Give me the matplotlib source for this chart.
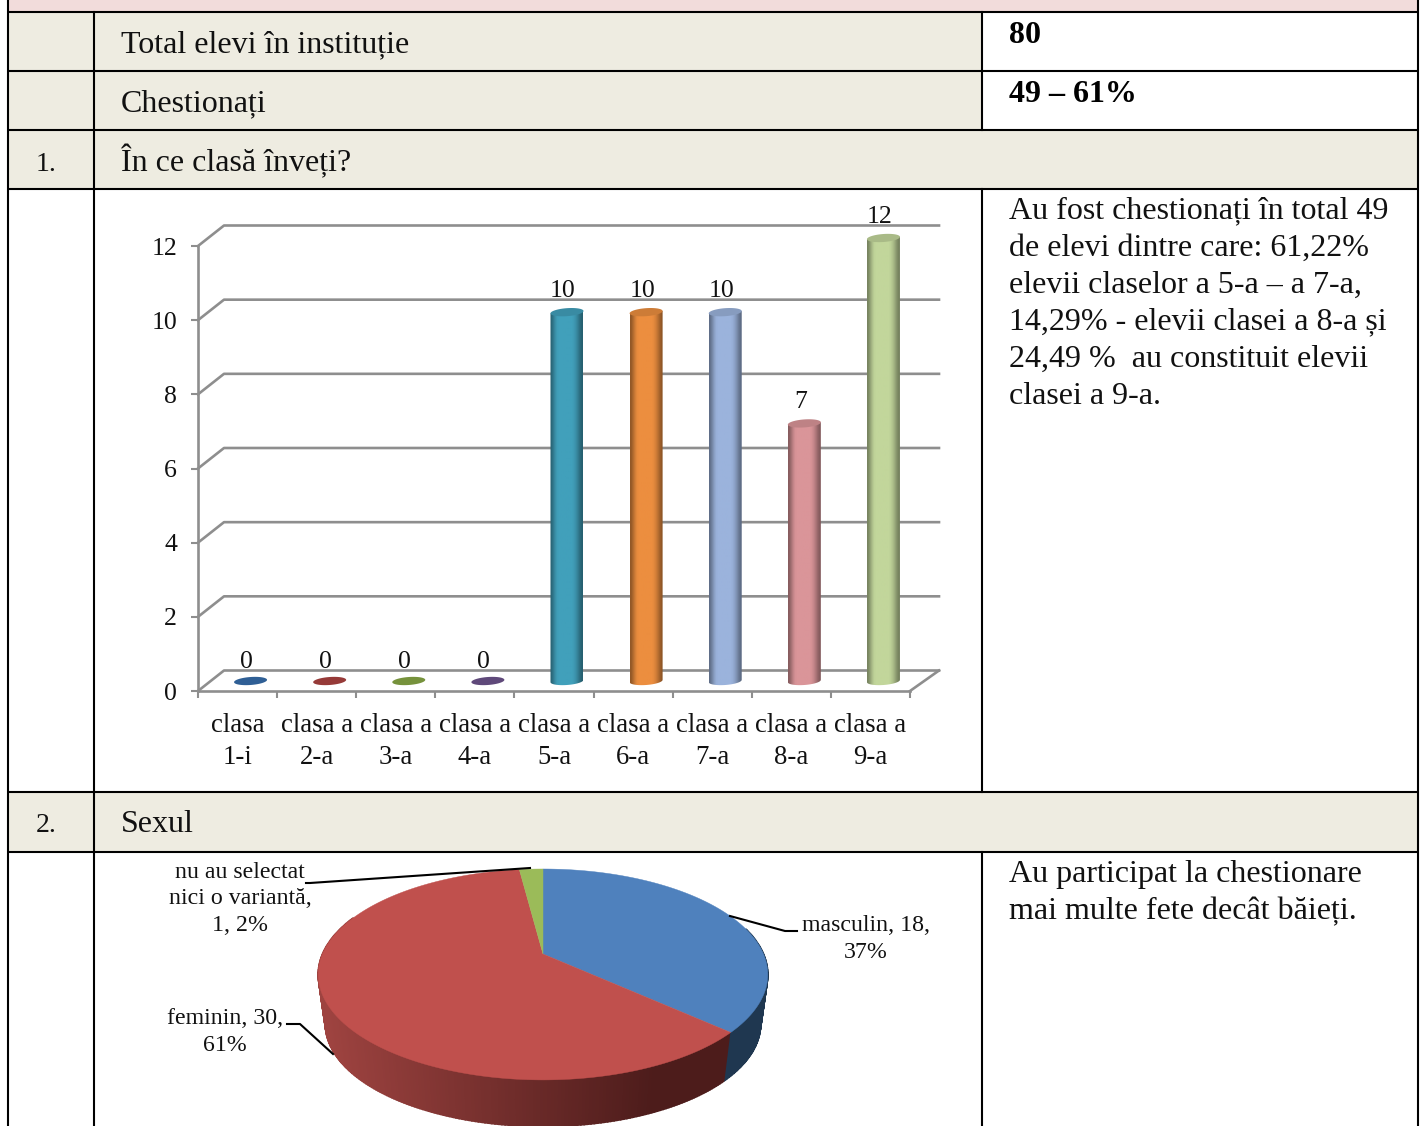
import numpy as np
import matplotlib
matplotlib.use('Agg')
import matplotlib.pyplot as plt
from matplotlib.patches import Polygon
from matplotlib.colors import to_rgb

plt.rcParams['font.family'] = ['Liberation Serif', 'DejaVu Serif']

# question 1
classes = ['clasa\n1-i', 'clasa a\n2-a', 'clasa a\n3-a', 'clasa a\n4-a', 'clasa a\n5-a',
           'clasa a\n6-a', 'clasa a\n7-a', 'clasa a\n8-a', 'clasa a\n9-a']
class_counts = [0, 0, 0, 0, 10, 10, 10, 7, 12]
class_colors = ['#2F5F95', '#963A38', '#76923C', '#5F497A', '#41A0BB', '#EC8E3F', '#9BB3DC', '#DA9599', '#C2D69B']
y_ticks = [0, 2, 4, 6, 8, 10, 12]

# question 2
sex_labels = ['masculin, 18,\n37%', 'feminin, 30,\n61%', 'nu au selectat\nnici o variantă,\n1, 2%']
sex_counts = [18, 30, 1]
sex_colors = ['#4F81BD', '#C0504D', '#9BBB59']

# table text
rows = [('', 'Total elevi în instituție', 52), ('', 'Chestionați', 111),
        ('1.', 'În ce clasă înveți?', 171), ('2.', 'Sexul', 832)]
answer_1 = ['Au fost chestionați în total 49', 'de elevi dintre care: 61,22%', 'elevii claselor a 5-a – a 7-a,',
            '14,29% - elevii clasei a 8-a și', '24,49 %  au constituit elevii', 'clasei a 9-a.']
answer_2 = ['Au participat la chestionare', 'mai multe fete decât băieți.']

W, H = 1424, 1126
fig = plt.figure(figsize=(W / 100, H / 100), dpi=100)
bg = fig.add_axes([0, 0, 1, 1])
bg.set_xlim(0, W)
bg.set_ylim(H, 0)
bg.axis('off')

BEIGE = '#EEECE1'
PINK = '#F2DCDB'
bg.fill_between([8, 1418], 0, 12, color=PINK, lw=0)
bg.fill_between([8, 982], 12, 130, color=BEIGE, lw=0)
bg.fill_between([8, 1418], 130, 189, color=BEIGE, lw=0)
bg.fill_between([8, 1418], 792, 852, color=BEIGE, lw=0)

for y in [12, 71, 130, 189, 792, 852]:
    bg.plot([8, 1418], [y, y], color='black', lw=1.5, solid_capstyle='butt')
bg.plot([8, 8], [0, H], color='black', lw=1.5)
bg.plot([94, 94], [12, H], color='black', lw=1.5)
bg.plot([1418, 1418], [0, H], color='black', lw=1.5)
bg.plot([982, 982], [12, 130], color='black', lw=1.5)
bg.plot([982, 982], [189, 792], color='black', lw=1.5)
bg.plot([982, 982], [852, H], color='black', lw=1.5)

BODY = 23
for num, txt, y in rows:
    bg.text(46, y, num, fontsize=20, ha='center', va='baseline', color='#111111')
    bg.text(121, y, txt, fontsize=BODY, va='baseline', color='#111111')
bg.text(1009, 43, '80', fontsize=BODY, fontweight='bold', va='baseline')
bg.text(1009, 102, '49 – 61%', fontsize=BODY, fontweight='bold', va='baseline')
for i, line in enumerate(answer_1):
    bg.text(1009, 218.5 + i * 37, line, fontsize=BODY, va='baseline', color='#111111')
for i, line in enumerate(answer_2):
    bg.text(1009, 882 + i * 37, line, fontsize=BODY, va='baseline', color='#111111')

# bar chart, axes placed on the pixel box of the front plane
GRAY = '#8E8E8E'
ax = fig.add_axes([198 / W, (H - 691) / H, 712 / W, 445 / H])
ax.patch.set_alpha(0)
x = np.arange(len(classes))
px_x = 712 / len(classes)
px_y = 445 / 12
depth_x, depth_y = 26 / px_x, 20.5 / px_y
right_end = 8.5 + 29 / px_x

for v in y_ticks:
    ax.plot([-0.5, -0.5 + depth_x, right_end], [v, v + depth_y, v + depth_y], color=GRAY, lw=1.9, clip_on=False, zorder=1)
ax.plot([8.5, right_end], [0, depth_y], color=GRAY, lw=1.9, clip_on=False, zorder=1)

bar_w = 33 / px_x
bar_x = x + 13 / px_x
base = 10 / px_y
shade = np.array([0.62, 0.74, 0.88, 0.98, 1, 1, 1, 1, 1, 1, 1, 0.97, 0.9, 0.8, 0.68, 0.6])


def disc(xc, yc, t, height=8, tilt=0.07):
    # slightly tilted ellipse, sizes in pixels
    dx = 16.5 * np.cos(t)
    dy = height / 2 * np.sin(t) + tilt * dx
    return np.column_stack([xc + dx / px_x, yc + dy / px_y])


full = np.linspace(0, 2 * np.pi, 60)
half = np.linspace(np.pi, 2 * np.pi, 30)
for xc, v, col in zip(bar_x, class_counts, class_colors):
    rgb = np.array(to_rgb(col))
    if v == 0:
        ax.add_patch(Polygon(disc(xc, base, full), closed=True, fc=col, ec='none', zorder=3, clip_on=False))
        continue
    top = base + v - 2 / px_y
    outline = np.vstack([disc(xc, base, half), disc(xc, top, np.array([0.0, np.pi]))])
    body = Polygon(outline, closed=True, fc='none', ec='none', transform=ax.transData)
    ax.add_patch(body)
    grad = shade[None, :, None] * rgb[None, None, :]
    im = ax.imshow(np.clip(grad, 0, 1), extent=[xc - bar_w / 2, xc + bar_w / 2, 0, top + 1], aspect='auto',
                   interpolation='bilinear', zorder=3)
    im.set_clip_path(body)
    im.set_clip_box(fig.bbox)
    ax.add_patch(Polygon(disc(xc, top, full), closed=True, fc=rgb * 0.87, ec='none', zorder=4, clip_on=False))

for xc, v in zip(x, class_counts):
    ax.text(xc + 9 / px_x, v + 29 / px_y, str(v), fontsize=18.5, ha='center', va='center', color='#111111')

ax.set_xlim(-0.5, 8.5)
ax.set_ylim(0, 12)
for side in ['top', 'right']:
    ax.spines[side].set_visible(False)
for side in ['left', 'bottom']:
    ax.spines[side].set_color(GRAY)
    ax.spines[side].set_linewidth(1.9)
ax.set_yticks(y_ticks)
ax.tick_params(axis='y', labelsize=18.5, length=5, width=1.5, color=GRAY, pad=10, labelcolor='#111111')
ax.set_xticks(x)
ax.set_xticklabels(classes, linespacing=1.38)
ax.tick_params(axis='x', which='major', labelsize=19.3, length=0, pad=16, labelcolor='#111111')
ax.set_xticks(np.arange(-0.5, 9), minor=True)
ax.tick_params(axis='x', which='minor', length=5, width=1.5, color=GRAY)

# 3d pie, disc pushed through a perspective so the apex sits above the ellipse centre
k, a, b = 0.194, 220.5, 101.5
cx, cy = 543, 954


def rim(theta, scale=1.0, shift=0.0):
    sx, sy = np.sin(theta), np.cos(theta)
    w = 1 + k * sy
    return cx + scale * a * sx / w, cy + shift - scale * b * sy / w


frac = np.cumsum([0] + sex_counts) / sum(sex_counts) * 2 * np.pi
wall_s, wall_d = 0.968, 50.5
wall_left = np.array(to_rgb('#9E4340'))
wall_right = np.array(to_rgb('#4D1C1B'))
step = 0.75
for deg in np.arange(75, 292, step):
    tt = np.radians([deg, deg + step])
    xa, ya = rim(tt)
    xb, yb = rim(tt[::-1], wall_s, wall_d)
    if tt[0] < frac[1]:
        col = '#1F3750'
    else:
        m = np.clip((xa[0] - 325) / 330, 0, 1)
        col = wall_left * (1 - m) + wall_right * m
    bg.fill(np.r_[xa, xb], np.r_[ya, yb], color=col, lw=1.2, zorder=2)

for i, col in enumerate(sex_colors):
    th = np.linspace(frac[i], frac[i + 1], 200)
    xs, ys = rim(th)
    bg.fill(np.r_[cx, xs], np.r_[cy, ys], color=col, lw=0.3, zorder=3)

bg.plot([530, 310, 306], [868, 883, 883], color='black', lw=1.5, zorder=5)
bg.plot([730, 785, 797], [916, 931, 931], color='black', lw=1.5, zorder=5)
bg.plot([333, 300, 287], [1054, 1024, 1024], color='black', lw=1.5, zorder=5)
bg.text(866, 939, sex_labels[0], fontsize=17.2, ha='center', va='center', linespacing=1.35, color='#111111', zorder=6)
bg.text(225, 1032, sex_labels[1], fontsize=17.2, ha='center', va='center', linespacing=1.35, color='#111111', zorder=6)
bg.text(240, 899, sex_labels[2], fontsize=17.2, ha='center', va='center', linespacing=1.35, color='#111111', zorder=6)

fig.savefig('out.png', dpi=100)
